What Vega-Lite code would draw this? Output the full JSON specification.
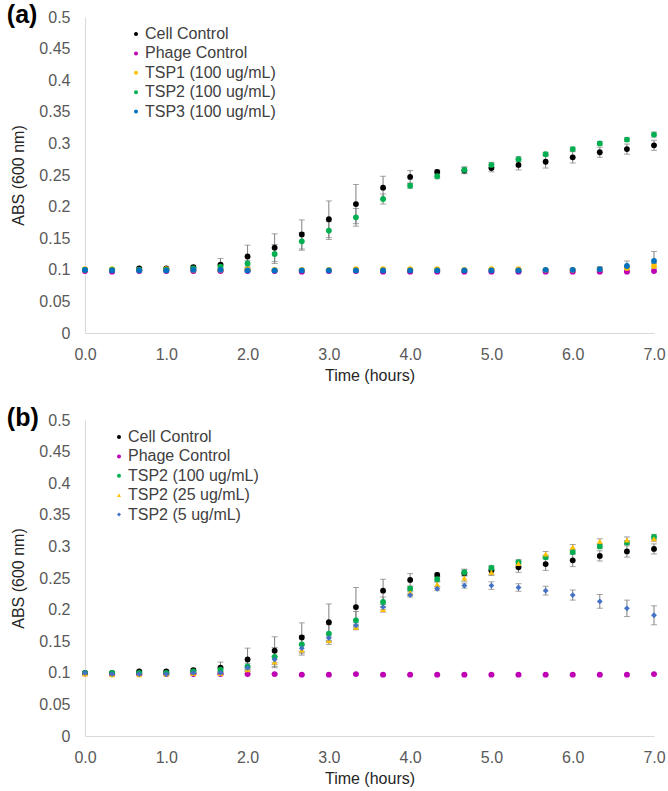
{
  "$schema": "https://vega.github.io/schema/vega-lite/v6.json",
  "padding": {"left": 6, "top": 3, "right": 2, "bottom": 2},
  "spacing": 23,
  "config": {
    "view": {"stroke": null},
    "font": "Liberation Sans",
    "axis": {"grid": false, "ticks": false, "labelFlush": false, "labelOverlap": false, "domainColor": "#D9D9D9", "domainWidth": 1, "labelColor": "#595959", "labelFontSize": 16, "titleColor": "#262626", "titleFontSize": 16, "titleFontWeight": "normal", "labelFont": "Liberation Sans", "titleFont": "Liberation Sans"},
    "legend": {"orient": "none", "title": null, "labelFontSize": 16, "labelColor": "#404040", "labelFont": "Liberation Sans", "symbolSize": 16, "rowPadding": 3.4, "labelOffset": 1, "padding": 0, "symbolStrokeWidth": 0}
  },
  "datasets": {
    "a": [
      {"s": "Cell Control", "t": 0, "v": 0.100, "e": 0.001},
      {"s": "Cell Control", "t": 0.333, "v": 0.100, "e": 0.001},
      {"s": "Cell Control", "t": 0.667, "v": 0.102, "e": 0.002},
      {"s": "Cell Control", "t": 1, "v": 0.102, "e": 0.002},
      {"s": "Cell Control", "t": 1.333, "v": 0.104, "e": 0.003},
      {"s": "Cell Control", "t": 1.667, "v": 0.108, "e": 0.010},
      {"s": "Cell Control", "t": 2, "v": 0.121, "e": 0.018},
      {"s": "Cell Control", "t": 2.333, "v": 0.135, "e": 0.022},
      {"s": "Cell Control", "t": 2.667, "v": 0.156, "e": 0.023},
      {"s": "Cell Control", "t": 3, "v": 0.180, "e": 0.029},
      {"s": "Cell Control", "t": 3.333, "v": 0.204, "e": 0.031},
      {"s": "Cell Control", "t": 3.667, "v": 0.230, "e": 0.018},
      {"s": "Cell Control", "t": 4, "v": 0.247, "e": 0.010},
      {"s": "Cell Control", "t": 4.333, "v": 0.255, "e": 0.003},
      {"s": "Cell Control", "t": 4.667, "v": 0.257, "e": 0.005},
      {"s": "Cell Control", "t": 5, "v": 0.261, "e": 0.006},
      {"s": "Cell Control", "t": 5.333, "v": 0.266, "e": 0.008},
      {"s": "Cell Control", "t": 5.667, "v": 0.271, "e": 0.010},
      {"s": "Cell Control", "t": 6, "v": 0.278, "e": 0.009},
      {"s": "Cell Control", "t": 6.333, "v": 0.286, "e": 0.008},
      {"s": "Cell Control", "t": 6.667, "v": 0.291, "e": 0.008},
      {"s": "Cell Control", "t": 7, "v": 0.297, "e": 0.008},
      {"s": "Phage Control", "t": 0, "v": 0.098, "e": 0.001},
      {"s": "Phage Control", "t": 0.333, "v": 0.097, "e": 0.001},
      {"s": "Phage Control", "t": 0.667, "v": 0.098, "e": 0.001},
      {"s": "Phage Control", "t": 1, "v": 0.098, "e": 0.001},
      {"s": "Phage Control", "t": 1.333, "v": 0.098, "e": 0.001},
      {"s": "Phage Control", "t": 1.667, "v": 0.098, "e": 0.001},
      {"s": "Phage Control", "t": 2, "v": 0.098, "e": 0.001},
      {"s": "Phage Control", "t": 2.333, "v": 0.098, "e": 0.001},
      {"s": "Phage Control", "t": 2.667, "v": 0.097, "e": 0.001},
      {"s": "Phage Control", "t": 3, "v": 0.098, "e": 0.001},
      {"s": "Phage Control", "t": 3.333, "v": 0.098, "e": 0.001},
      {"s": "Phage Control", "t": 3.667, "v": 0.097, "e": 0.001},
      {"s": "Phage Control", "t": 4, "v": 0.097, "e": 0.001},
      {"s": "Phage Control", "t": 4.333, "v": 0.097, "e": 0.001},
      {"s": "Phage Control", "t": 4.667, "v": 0.097, "e": 0.001},
      {"s": "Phage Control", "t": 5, "v": 0.097, "e": 0.001},
      {"s": "Phage Control", "t": 5.333, "v": 0.097, "e": 0.001},
      {"s": "Phage Control", "t": 5.667, "v": 0.097, "e": 0.001},
      {"s": "Phage Control", "t": 6, "v": 0.097, "e": 0.001},
      {"s": "Phage Control", "t": 6.333, "v": 0.097, "e": 0.001},
      {"s": "Phage Control", "t": 6.667, "v": 0.097, "e": 0.001},
      {"s": "Phage Control", "t": 7, "v": 0.098, "e": 0.001},
      {"s": "TSP1 (100 ug/mL)", "t": 0, "v": 0.101, "e": 0.001},
      {"s": "TSP1 (100 ug/mL)", "t": 0.333, "v": 0.101, "e": 0.001},
      {"s": "TSP1 (100 ug/mL)", "t": 0.667, "v": 0.100, "e": 0.001},
      {"s": "TSP1 (100 ug/mL)", "t": 1, "v": 0.101, "e": 0.001},
      {"s": "TSP1 (100 ug/mL)", "t": 1.333, "v": 0.100, "e": 0.001},
      {"s": "TSP1 (100 ug/mL)", "t": 1.667, "v": 0.100, "e": 0.001},
      {"s": "TSP1 (100 ug/mL)", "t": 2, "v": 0.101, "e": 0.001},
      {"s": "TSP1 (100 ug/mL)", "t": 2.333, "v": 0.100, "e": 0.001},
      {"s": "TSP1 (100 ug/mL)", "t": 2.667, "v": 0.100, "e": 0.001},
      {"s": "TSP1 (100 ug/mL)", "t": 3, "v": 0.100, "e": 0.001},
      {"s": "TSP1 (100 ug/mL)", "t": 3.333, "v": 0.101, "e": 0.001},
      {"s": "TSP1 (100 ug/mL)", "t": 3.667, "v": 0.101, "e": 0.001},
      {"s": "TSP1 (100 ug/mL)", "t": 4, "v": 0.101, "e": 0.001},
      {"s": "TSP1 (100 ug/mL)", "t": 4.333, "v": 0.101, "e": 0.001},
      {"s": "TSP1 (100 ug/mL)", "t": 4.667, "v": 0.100, "e": 0.001},
      {"s": "TSP1 (100 ug/mL)", "t": 5, "v": 0.101, "e": 0.001},
      {"s": "TSP1 (100 ug/mL)", "t": 5.333, "v": 0.101, "e": 0.001},
      {"s": "TSP1 (100 ug/mL)", "t": 5.667, "v": 0.100, "e": 0.001},
      {"s": "TSP1 (100 ug/mL)", "t": 6, "v": 0.100, "e": 0.001},
      {"s": "TSP1 (100 ug/mL)", "t": 6.333, "v": 0.101, "e": 0.002},
      {"s": "TSP1 (100 ug/mL)", "t": 6.667, "v": 0.103, "e": 0.003},
      {"s": "TSP1 (100 ug/mL)", "t": 7, "v": 0.106, "e": 0.004},
      {"s": "TSP2 (100 ug/mL)", "t": 0, "v": 0.100, "e": 0.001},
      {"s": "TSP2 (100 ug/mL)", "t": 0.333, "v": 0.100, "e": 0.001},
      {"s": "TSP2 (100 ug/mL)", "t": 0.667, "v": 0.100, "e": 0.001},
      {"s": "TSP2 (100 ug/mL)", "t": 1, "v": 0.100, "e": 0.001},
      {"s": "TSP2 (100 ug/mL)", "t": 1.333, "v": 0.102, "e": 0.002},
      {"s": "TSP2 (100 ug/mL)", "t": 1.667, "v": 0.105, "e": 0.004},
      {"s": "TSP2 (100 ug/mL)", "t": 2, "v": 0.110, "e": 0.005},
      {"s": "TSP2 (100 ug/mL)", "t": 2.333, "v": 0.125, "e": 0.015},
      {"s": "TSP2 (100 ug/mL)", "t": 2.667, "v": 0.145, "e": 0.014},
      {"s": "TSP2 (100 ug/mL)", "t": 3, "v": 0.162, "e": 0.014},
      {"s": "TSP2 (100 ug/mL)", "t": 3.333, "v": 0.183, "e": 0.014},
      {"s": "TSP2 (100 ug/mL)", "t": 3.667, "v": 0.212, "e": 0.008},
      {"s": "TSP2 (100 ug/mL)", "t": 4, "v": 0.233, "e": 0.004},
      {"s": "TSP2 (100 ug/mL)", "t": 4.333, "v": 0.248, "e": 0.004},
      {"s": "TSP2 (100 ug/mL)", "t": 4.667, "v": 0.258, "e": 0.005},
      {"s": "TSP2 (100 ug/mL)", "t": 5, "v": 0.266, "e": 0.004},
      {"s": "TSP2 (100 ug/mL)", "t": 5.333, "v": 0.275, "e": 0.004},
      {"s": "TSP2 (100 ug/mL)", "t": 5.667, "v": 0.283, "e": 0.003},
      {"s": "TSP2 (100 ug/mL)", "t": 6, "v": 0.291, "e": 0.003},
      {"s": "TSP2 (100 ug/mL)", "t": 6.333, "v": 0.300, "e": 0.003},
      {"s": "TSP2 (100 ug/mL)", "t": 6.667, "v": 0.306, "e": 0.003},
      {"s": "TSP2 (100 ug/mL)", "t": 7, "v": 0.314, "e": 0.004},
      {"s": "TSP3 (100 ug/mL)", "t": 0, "v": 0.100, "e": 0.001},
      {"s": "TSP3 (100 ug/mL)", "t": 0.333, "v": 0.099, "e": 0.001},
      {"s": "TSP3 (100 ug/mL)", "t": 0.667, "v": 0.099, "e": 0.001},
      {"s": "TSP3 (100 ug/mL)", "t": 1, "v": 0.099, "e": 0.001},
      {"s": "TSP3 (100 ug/mL)", "t": 1.333, "v": 0.100, "e": 0.001},
      {"s": "TSP3 (100 ug/mL)", "t": 1.667, "v": 0.100, "e": 0.001},
      {"s": "TSP3 (100 ug/mL)", "t": 2, "v": 0.099, "e": 0.001},
      {"s": "TSP3 (100 ug/mL)", "t": 2.333, "v": 0.099, "e": 0.001},
      {"s": "TSP3 (100 ug/mL)", "t": 2.667, "v": 0.099, "e": 0.001},
      {"s": "TSP3 (100 ug/mL)", "t": 3, "v": 0.099, "e": 0.001},
      {"s": "TSP3 (100 ug/mL)", "t": 3.333, "v": 0.099, "e": 0.001},
      {"s": "TSP3 (100 ug/mL)", "t": 3.667, "v": 0.099, "e": 0.001},
      {"s": "TSP3 (100 ug/mL)", "t": 4, "v": 0.099, "e": 0.001},
      {"s": "TSP3 (100 ug/mL)", "t": 4.333, "v": 0.099, "e": 0.001},
      {"s": "TSP3 (100 ug/mL)", "t": 4.667, "v": 0.099, "e": 0.001},
      {"s": "TSP3 (100 ug/mL)", "t": 5, "v": 0.099, "e": 0.001},
      {"s": "TSP3 (100 ug/mL)", "t": 5.333, "v": 0.099, "e": 0.001},
      {"s": "TSP3 (100 ug/mL)", "t": 5.667, "v": 0.100, "e": 0.001},
      {"s": "TSP3 (100 ug/mL)", "t": 6, "v": 0.100, "e": 0.001},
      {"s": "TSP3 (100 ug/mL)", "t": 6.333, "v": 0.101, "e": 0.004},
      {"s": "TSP3 (100 ug/mL)", "t": 6.667, "v": 0.106, "e": 0.008},
      {"s": "TSP3 (100 ug/mL)", "t": 7, "v": 0.114, "e": 0.015}
    ],
    "b": [
      {"s": "Cell Control", "t": 0, "v": 0.100, "e": 0.001},
      {"s": "Cell Control", "t": 0.333, "v": 0.100, "e": 0.001},
      {"s": "Cell Control", "t": 0.667, "v": 0.102, "e": 0.002},
      {"s": "Cell Control", "t": 1, "v": 0.102, "e": 0.002},
      {"s": "Cell Control", "t": 1.333, "v": 0.104, "e": 0.003},
      {"s": "Cell Control", "t": 1.667, "v": 0.108, "e": 0.009},
      {"s": "Cell Control", "t": 2, "v": 0.121, "e": 0.018},
      {"s": "Cell Control", "t": 2.333, "v": 0.135, "e": 0.022},
      {"s": "Cell Control", "t": 2.667, "v": 0.156, "e": 0.023},
      {"s": "Cell Control", "t": 3, "v": 0.180, "e": 0.029},
      {"s": "Cell Control", "t": 3.333, "v": 0.204, "e": 0.031},
      {"s": "Cell Control", "t": 3.667, "v": 0.230, "e": 0.018},
      {"s": "Cell Control", "t": 4, "v": 0.247, "e": 0.010},
      {"s": "Cell Control", "t": 4.333, "v": 0.255, "e": 0.003},
      {"s": "Cell Control", "t": 4.667, "v": 0.258, "e": 0.005},
      {"s": "Cell Control", "t": 5, "v": 0.262, "e": 0.006},
      {"s": "Cell Control", "t": 5.333, "v": 0.267, "e": 0.008},
      {"s": "Cell Control", "t": 5.667, "v": 0.272, "e": 0.010},
      {"s": "Cell Control", "t": 6, "v": 0.278, "e": 0.010},
      {"s": "Cell Control", "t": 6.333, "v": 0.285, "e": 0.008},
      {"s": "Cell Control", "t": 6.667, "v": 0.292, "e": 0.009},
      {"s": "Cell Control", "t": 7, "v": 0.296, "e": 0.008},
      {"s": "Phage Control", "t": 0, "v": 0.099, "e": 0.001},
      {"s": "Phage Control", "t": 0.333, "v": 0.098, "e": 0.001},
      {"s": "Phage Control", "t": 0.667, "v": 0.098, "e": 0.001},
      {"s": "Phage Control", "t": 1, "v": 0.098, "e": 0.001},
      {"s": "Phage Control", "t": 1.333, "v": 0.098, "e": 0.001},
      {"s": "Phage Control", "t": 1.667, "v": 0.098, "e": 0.001},
      {"s": "Phage Control", "t": 2, "v": 0.098, "e": 0.001},
      {"s": "Phage Control", "t": 2.333, "v": 0.098, "e": 0.001},
      {"s": "Phage Control", "t": 2.667, "v": 0.097, "e": 0.001},
      {"s": "Phage Control", "t": 3, "v": 0.097, "e": 0.001},
      {"s": "Phage Control", "t": 3.333, "v": 0.098, "e": 0.001},
      {"s": "Phage Control", "t": 3.667, "v": 0.097, "e": 0.001},
      {"s": "Phage Control", "t": 4, "v": 0.097, "e": 0.001},
      {"s": "Phage Control", "t": 4.333, "v": 0.097, "e": 0.001},
      {"s": "Phage Control", "t": 4.667, "v": 0.097, "e": 0.001},
      {"s": "Phage Control", "t": 5, "v": 0.097, "e": 0.001},
      {"s": "Phage Control", "t": 5.333, "v": 0.097, "e": 0.001},
      {"s": "Phage Control", "t": 5.667, "v": 0.097, "e": 0.001},
      {"s": "Phage Control", "t": 6, "v": 0.097, "e": 0.001},
      {"s": "Phage Control", "t": 6.333, "v": 0.097, "e": 0.001},
      {"s": "Phage Control", "t": 6.667, "v": 0.097, "e": 0.001},
      {"s": "Phage Control", "t": 7, "v": 0.098, "e": 0.001},
      {"s": "TSP2 (100 ug/mL)", "t": 0, "v": 0.100, "e": 0.001},
      {"s": "TSP2 (100 ug/mL)", "t": 0.333, "v": 0.100, "e": 0.001},
      {"s": "TSP2 (100 ug/mL)", "t": 0.667, "v": 0.100, "e": 0.001},
      {"s": "TSP2 (100 ug/mL)", "t": 1, "v": 0.100, "e": 0.001},
      {"s": "TSP2 (100 ug/mL)", "t": 1.333, "v": 0.102, "e": 0.002},
      {"s": "TSP2 (100 ug/mL)", "t": 1.667, "v": 0.105, "e": 0.004},
      {"s": "TSP2 (100 ug/mL)", "t": 2, "v": 0.110, "e": 0.005},
      {"s": "TSP2 (100 ug/mL)", "t": 2.333, "v": 0.125, "e": 0.015},
      {"s": "TSP2 (100 ug/mL)", "t": 2.667, "v": 0.145, "e": 0.014},
      {"s": "TSP2 (100 ug/mL)", "t": 3, "v": 0.162, "e": 0.014},
      {"s": "TSP2 (100 ug/mL)", "t": 3.333, "v": 0.183, "e": 0.014},
      {"s": "TSP2 (100 ug/mL)", "t": 3.667, "v": 0.212, "e": 0.008},
      {"s": "TSP2 (100 ug/mL)", "t": 4, "v": 0.233, "e": 0.004},
      {"s": "TSP2 (100 ug/mL)", "t": 4.333, "v": 0.248, "e": 0.004},
      {"s": "TSP2 (100 ug/mL)", "t": 4.667, "v": 0.259, "e": 0.005},
      {"s": "TSP2 (100 ug/mL)", "t": 5, "v": 0.266, "e": 0.004},
      {"s": "TSP2 (100 ug/mL)", "t": 5.333, "v": 0.275, "e": 0.004},
      {"s": "TSP2 (100 ug/mL)", "t": 5.667, "v": 0.283, "e": 0.003},
      {"s": "TSP2 (100 ug/mL)", "t": 6, "v": 0.291, "e": 0.003},
      {"s": "TSP2 (100 ug/mL)", "t": 6.333, "v": 0.300, "e": 0.003},
      {"s": "TSP2 (100 ug/mL)", "t": 6.667, "v": 0.306, "e": 0.003},
      {"s": "TSP2 (100 ug/mL)", "t": 7, "v": 0.315, "e": 0.004},
      {"s": "TSP2 (25 ug/mL)", "t": 0, "v": 0.098, "e": 0.001},
      {"s": "TSP2 (25 ug/mL)", "t": 0.333, "v": 0.097, "e": 0.001},
      {"s": "TSP2 (25 ug/mL)", "t": 0.667, "v": 0.097, "e": 0.001},
      {"s": "TSP2 (25 ug/mL)", "t": 1, "v": 0.098, "e": 0.001},
      {"s": "TSP2 (25 ug/mL)", "t": 1.333, "v": 0.099, "e": 0.001},
      {"s": "TSP2 (25 ug/mL)", "t": 1.667, "v": 0.099, "e": 0.002},
      {"s": "TSP2 (25 ug/mL)", "t": 2, "v": 0.105, "e": 0.003},
      {"s": "TSP2 (25 ug/mL)", "t": 2.333, "v": 0.117, "e": 0.009},
      {"s": "TSP2 (25 ug/mL)", "t": 2.667, "v": 0.136, "e": 0.008},
      {"s": "TSP2 (25 ug/mL)", "t": 3, "v": 0.151, "e": 0.006},
      {"s": "TSP2 (25 ug/mL)", "t": 3.333, "v": 0.172, "e": 0.004},
      {"s": "TSP2 (25 ug/mL)", "t": 3.667, "v": 0.200, "e": 0.004},
      {"s": "TSP2 (25 ug/mL)", "t": 4, "v": 0.227, "e": 0.004},
      {"s": "TSP2 (25 ug/mL)", "t": 4.333, "v": 0.240, "e": 0.004},
      {"s": "TSP2 (25 ug/mL)", "t": 4.667, "v": 0.250, "e": 0.005},
      {"s": "TSP2 (25 ug/mL)", "t": 5, "v": 0.259, "e": 0.005},
      {"s": "TSP2 (25 ug/mL)", "t": 5.333, "v": 0.273, "e": 0.004},
      {"s": "TSP2 (25 ug/mL)", "t": 5.667, "v": 0.288, "e": 0.004},
      {"s": "TSP2 (25 ug/mL)", "t": 6, "v": 0.299, "e": 0.004},
      {"s": "TSP2 (25 ug/mL)", "t": 6.333, "v": 0.308, "e": 0.004},
      {"s": "TSP2 (25 ug/mL)", "t": 6.667, "v": 0.310, "e": 0.005},
      {"s": "TSP2 (25 ug/mL)", "t": 7, "v": 0.312, "e": 0.004},
      {"s": "TSP2 (5 ug/mL)", "t": 0, "v": 0.100, "e": 0.001},
      {"s": "TSP2 (5 ug/mL)", "t": 0.333, "v": 0.098, "e": 0.001},
      {"s": "TSP2 (5 ug/mL)", "t": 0.667, "v": 0.098, "e": 0.001},
      {"s": "TSP2 (5 ug/mL)", "t": 1, "v": 0.098, "e": 0.001},
      {"s": "TSP2 (5 ug/mL)", "t": 1.333, "v": 0.100, "e": 0.001},
      {"s": "TSP2 (5 ug/mL)", "t": 1.667, "v": 0.100, "e": 0.002},
      {"s": "TSP2 (5 ug/mL)", "t": 2, "v": 0.108, "e": 0.003},
      {"s": "TSP2 (5 ug/mL)", "t": 2.333, "v": 0.121, "e": 0.005},
      {"s": "TSP2 (5 ug/mL)", "t": 2.667, "v": 0.139, "e": 0.005},
      {"s": "TSP2 (5 ug/mL)", "t": 3, "v": 0.155, "e": 0.005},
      {"s": "TSP2 (5 ug/mL)", "t": 3.333, "v": 0.175, "e": 0.004},
      {"s": "TSP2 (5 ug/mL)", "t": 3.667, "v": 0.204, "e": 0.004},
      {"s": "TSP2 (5 ug/mL)", "t": 4, "v": 0.223, "e": 0.003},
      {"s": "TSP2 (5 ug/mL)", "t": 4.333, "v": 0.233, "e": 0.003},
      {"s": "TSP2 (5 ug/mL)", "t": 4.667, "v": 0.238, "e": 0.004},
      {"s": "TSP2 (5 ug/mL)", "t": 5, "v": 0.238, "e": 0.006},
      {"s": "TSP2 (5 ug/mL)", "t": 5.333, "v": 0.235, "e": 0.006},
      {"s": "TSP2 (5 ug/mL)", "t": 5.667, "v": 0.230, "e": 0.007},
      {"s": "TSP2 (5 ug/mL)", "t": 6, "v": 0.223, "e": 0.008},
      {"s": "TSP2 (5 ug/mL)", "t": 6.333, "v": 0.213, "e": 0.011},
      {"s": "TSP2 (5 ug/mL)", "t": 6.667, "v": 0.202, "e": 0.013},
      {"s": "TSP2 (5 ug/mL)", "t": 7, "v": 0.191, "e": 0.015}
    ]
  },
  "resolve": {"scale": {"color": "independent", "shape": "independent"}, "legend": {"color": "independent", "shape": "independent"}},
  "vconcat": [
    {
      "width": 569,
      "height": 316,
      "data": {"name": "a"},
      "title": {"text": "(a)", "anchor": "start", "frame": "bounds", "fontSize": 25, "fontWeight": "bold", "color": "#000000", "font": "Liberation Sans", "offset": 0, "dy": 19, "dx": -4},
      "encoding": {
        "x": {"field": "t", "type": "quantitative", "scale": {"domain": [0, 7], "nice": false}, "axis": {"values": [0, 1, 2, 3, 4, 5, 6, 7], "format": ".1f", "labelPadding": 13, "titlePadding": 5}, "title": "Time (hours)"},
        "y": {"field": "v", "type": "quantitative", "scale": {"domain": [0, 0.5], "nice": false, "zero": true}, "axis": {"values": [0, 0.05, 0.1, 0.15, 0.2, 0.25, 0.3, 0.35, 0.4, 0.45, 0.5], "format": "~g", "labelPadding": 15, "titlePadding": 12}, "title": "ABS (600 nm)"}
      },
      "layer": [
        {
          "mark": {"type": "errorbar", "ticks": {"size": 6, "thickness": 1, "color": "#7F7F7F"}, "rule": {"color": "#7F7F7F", "strokeWidth": 1}},
          "encoding": {"yError": {"field": "e"}}
        },
        {
          "mark": {"type": "point", "filled": true, "size": 34, "opacity": 1, "shape": "circle"},
          "encoding": {
            "color": {"field": "s", "type": "nominal", "sort": null, "scale": {"domain": ["Cell Control", "Phage Control", "TSP1 (100 ug/mL)", "TSP2 (100 ug/mL)", "TSP3 (100 ug/mL)"], "range": ["#000000", "#C000B4", "#FFC000", "#00B050", "#0070C0"]}, "legend": {"legendX": 43, "legendY": 9}}
          }
        }
      ]
    },
    {
      "width": 569,
      "height": 316,
      "data": {"name": "b"},
      "title": {"text": "(b)", "anchor": "start", "frame": "bounds", "fontSize": 25, "fontWeight": "bold", "color": "#000000", "font": "Liberation Sans", "offset": 0, "dy": 19, "dx": -4},
      "encoding": {
        "x": {"field": "t", "type": "quantitative", "scale": {"domain": [0, 7], "nice": false}, "axis": {"values": [0, 1, 2, 3, 4, 5, 6, 7], "format": ".1f", "labelPadding": 13, "titlePadding": 5}, "title": "Time (hours)"},
        "y": {"field": "v", "type": "quantitative", "scale": {"domain": [0, 0.5], "nice": false, "zero": true}, "axis": {"values": [0, 0.05, 0.1, 0.15, 0.2, 0.25, 0.3, 0.35, 0.4, 0.45, 0.5], "format": "~g", "labelPadding": 15, "titlePadding": 12}, "title": "ABS (600 nm)"}
      },
      "layer": [
        {
          "mark": {"type": "errorbar", "ticks": {"size": 6, "thickness": 1, "color": "#7F7F7F"}, "rule": {"color": "#7F7F7F", "strokeWidth": 1}},
          "encoding": {"yError": {"field": "e"}}
        },
        {
          "mark": {"type": "point", "filled": true, "size": 34, "opacity": 1},
          "encoding": {
            "color": {"field": "s", "type": "nominal", "sort": null, "scale": {"domain": ["Cell Control", "Phage Control", "TSP2 (100 ug/mL)", "TSP2 (25 ug/mL)", "TSP2 (5 ug/mL)"], "range": ["#000000", "#C000B4", "#00B050", "#FFC000", "#4472C4"]}, "legend": {"legendX": 26, "legendY": 9}},
            "shape": {"field": "s", "type": "nominal", "sort": null, "scale": {"domain": ["Cell Control", "Phage Control", "TSP2 (100 ug/mL)", "TSP2 (25 ug/mL)", "TSP2 (5 ug/mL)"], "range": ["circle", "circle", "circle", "triangle-up", "diamond"]}, "legend": {"legendX": 26, "legendY": 9}}
          }
        }
      ]
    }
  ]
}
